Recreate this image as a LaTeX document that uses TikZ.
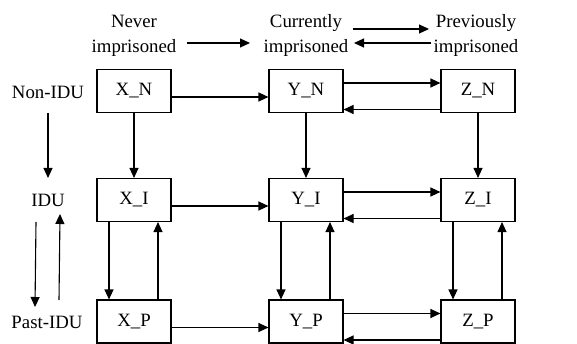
\documentclass[tikz,border=0pt]{standalone}
\usepackage{fontspec}
\setmainfont{Liberation Serif}
\usetikzlibrary{arrows.meta,calc}
\tikzset{
  box/.style={draw, line width=1.1pt, minimum width=74pt, minimum height=43pt, inner sep=0pt},
  lbl/.style={inner sep=0pt, align=center},
  arr/.style={line width=1.1pt, -{Triangle[length=10pt,width=9pt]}},
}
\begin{document}
\begin{tikzpicture}[x=1pt,y=-1pt, font=\fontsize{18.8}{25}\selectfont]
\useasboundingbox (0,0) rectangle (577,344);
% top labels
\node[lbl] (never) at (134,35.5) {Never\\imprisoned};
\node[lbl] (curr) at (306,35.5) {Currently\\imprisoned};
\node[lbl] (prev) at (476,35.5) {Previously\\imprisoned};
% left labels
\node[lbl] (nonidu) at (48,92) {Non-IDU};
\node[lbl] (idu) at (48,200) {IDU};
\node[lbl] (pastidu) at (47,322) {Past-IDU};
% boxes
\node[box] (XN) at (134,91) {X\_N};
\node[box] (YN) at (306,91) {Y\_N};
\node[box] (ZN) at (478,91) {Z\_N};
\node[box] (XI) at (134,200) {X\_I};
\node[box] (YI) at (306,200) {Y\_I};
\node[box] (ZI) at (478,200) {Z\_I};
\node[box] (XP) at (134,321.5) {X\_P};
\node[box] (YP) at (306,321.5) {Y\_P};
\node[box] (ZP) at (478,321.5) {Z\_P};
% top arrows
\draw[arr] ($(never.east)+(10.5,7.5)$) -- ($(curr.west)+(-13.5,7.5)$);
\draw[arr] ($(curr.east)+(4.5,-6.5)$) -- ($(prev.west)+(-4.5,-6.5)$);
\draw[arr] ($(prev.west)+(-2.5,7.5)$) -- ($(curr.east)+(5.5,7.5)$);
% left arrows
\draw[arr] ($(nonidu)+(0,21)$) -- ($(idu)+(0,-22)$);
\draw[arr] ($(idu)+(-12,22)$) -- ($(pastidu)+(-12,-15)$);
\draw[arr] ($(pastidu)+(12,-22)$) -- ($(idu)+(12,14)$);
% horizontal arrows
\foreach \r in {N,I,P}{
  \draw[arr] ($(X\r.east)+(0,6)$) -- ($(Y\r.west)+(0,6)$);
  \draw[arr] ($(Y\r.east)+(0,-8)$) -- ($(Z\r.west)+(0,-8)$);
  \draw[arr] ($(Z\r.west)+(0,18.5)$) -- ($(Y\r.east)+(0,18.5)$);
}
% vertical arrows
\foreach \c in {X,Y,Z}{
  \draw[arr] (\c N.south) -- (\c I.north);
  \draw[arr] ($(\c I.south)+(-25,0)$) -- ($(\c P.north)+(-25,0)$);
  \draw[arr] ($(\c P.north)+(24,0)$) -- ($(\c I.south)+(24,0)$);
}
\end{tikzpicture}
\end{document}
